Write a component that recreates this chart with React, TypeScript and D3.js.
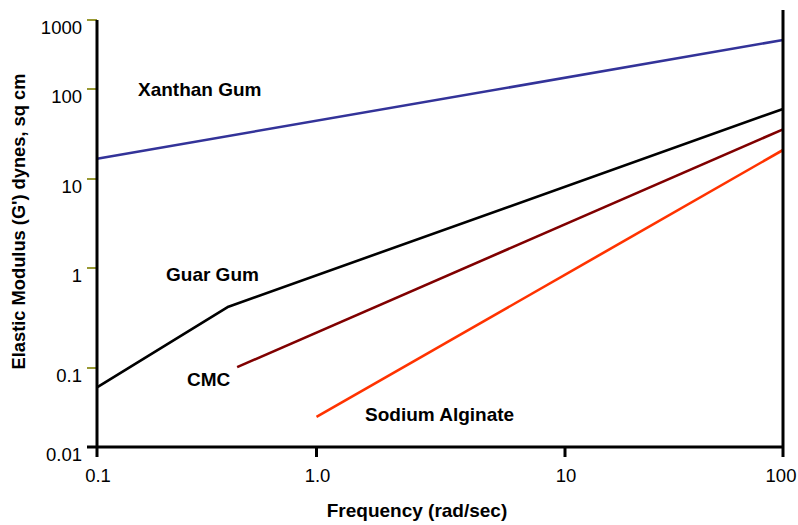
import React from "react";
import * as d3 from "d3";

const W = 798;
const H = 525;

// axis decades (hand-drawn chart with uneven decade spacing)
const xTickValues = [0.1, 1, 10, 100];
const xTickLabels = ["0.1", "1.0", "10", "100"];
const yTickValues = [0.01, 0.1, 1, 10, 100, 1000];
const yTickLabels = ["0.01", "0.1", "1", "10", "100", "1000"];

// series: [frequency, G']
const xanthanGum: [number, number][] = [[0.1, 16.8], [100, 513]];
const guarGum: [number, number][] = [[0.1, 0.057], [0.397, 0.41], [100, 60]];
const cmc: [number, number][] = [[0.435, 0.102], [100, 35.6]];
const sodiumAlginate: [number, number][] = [[1.0, 0.024], [100, 21]];

const seriesNames = ["Xanthan Gum", "Guar Gum", "CMC", "Sodium Alginate"];
const seriesData = [xanthanGum, guarGum, cmc, sodiumAlginate];
const seriesColors = ["#333399", "#000000", "#800000", "#ff3300"];
const labelPos: [number, number][] = [[138, 96], [166, 281], [187, 386], [365, 421]];

const FONT = "'Liberation Sans', Arial, Helvetica, sans-serif";

export default function App() {
  const x = d3.scaleLog().domain(xTickValues).range([97, 316.5, 565, 783]);
  const y = d3.scaleLog().domain(yTickValues).range([447, 368, 268, 179, 89, 20]);
  const line = d3
    .line<[number, number]>()
    .x((d) => x(d[0]))
    .y((d) => y(d[1]));

  const x0 = x(0.1);
  const x1 = x(100);
  const y0 = y(0.01);
  const yTop = y(1000);

  return (
    <svg
      width={W}
      height={H}
      style={{ position: "absolute", left: 0, top: 0, background: "#fff" }}
      fontFamily={FONT}
    >
      <rect width={W} height={H} fill="#fff" />
      {/* series */}
      {seriesData.map((s, i) => (
        <path key={i} d={line(s) || ""} fill="none" stroke={seriesColors[i]} strokeWidth={2.6} strokeLinejoin="round" />
      ))}
      {/* y ticks (olive) */}
      {yTickValues.slice(1).map((v) => (
        <line key={v} x1={x0 - 10} x2={x0} y1={y(v)} y2={y(v)} stroke="#999933" strokeWidth={2} />
      ))}
      {/* axes */}
      <line x1={x0} x2={x0} y1={yTop} y2={y0 + 10} stroke="#000" strokeWidth={3} />
      <line x1={x0 - 10} x2={x1} y1={y0} y2={y0} stroke="#000" strokeWidth={3} />
      <line x1={x1} x2={x1} y1={10} y2={y0 + 10} stroke="#000" strokeWidth={3} />
      {xTickValues.slice(1, 3).map((v) => (
        <line key={v} x1={x(v)} x2={x(v)} y1={y0} y2={y0 + 10} stroke="#000" strokeWidth={3} />
      ))}
      {/* y tick labels */}
      {yTickValues.map((v, i) => (
        <text key={v} x={82} y={y(v) + 14} textAnchor="end" fontSize={18.5} fill="#000">
          {yTickLabels[i]}
        </text>
      ))}
      {/* x tick labels */}
      {xTickValues.map((v, i) => (
        <text key={v} x={x(v) + (i === 3 ? -2 : 1)} y={482} textAnchor="middle" fontSize={18.5} fill="#000">
          {xTickLabels[i]}
        </text>
      ))}
      {/* axis titles */}
      <text x={417} y={517} textAnchor="middle" fontSize={19} fontWeight="bold" fill="#000">
        Frequency (rad/sec)
      </text>
      <text
        transform={`translate(25,221.5) rotate(-90)`}
        textAnchor="middle"
        fontSize={18.3}
        fontWeight="bold"
        fill="#000"
      >
        Elastic Modulus (G') dynes, sq cm
      </text>
      {/* series labels */}
      {seriesNames.map((n, i) => (
        <text key={n} x={labelPos[i][0]} y={labelPos[i][1]} fontSize={19} fontWeight="bold" fill="#000">
          {n}
        </text>
      ))}
    </svg>
  );
}
